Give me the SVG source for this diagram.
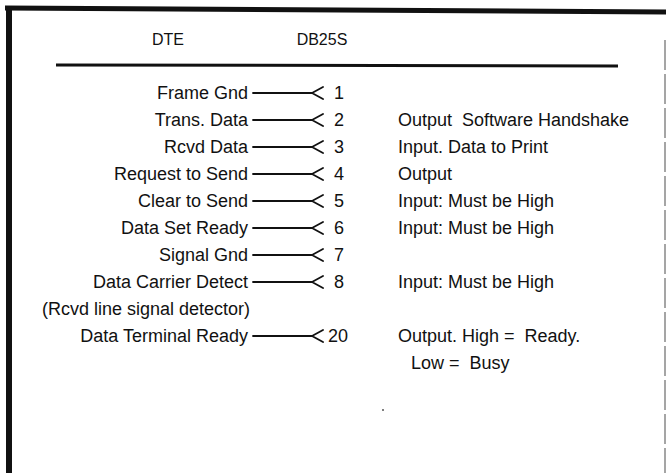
<svg xmlns="http://www.w3.org/2000/svg" width="668" height="473" viewBox="0 0 668 473">
<style>
text{font-family:"Liberation Sans",Arial,sans-serif;font-size:18px;fill:#111;white-space:pre}
.h{font-size:16px}
.l{text-anchor:end}
.n{text-anchor:middle}
.w{stroke:#111;stroke-width:1.8;fill:none;stroke-linecap:round;stroke-linejoin:round}
</style>
<rect width="668" height="473" fill="#fff"/>
<g id="frame">
<line x1="5" y1="8" x2="666" y2="12" stroke="#111" stroke-width="5"/>
<line x1="9" y1="6" x2="9" y2="473" stroke="#111" stroke-width="6"/>
<line x1="665" y1="40" x2="665" y2="473" stroke="#888" stroke-width="1.5" stroke-dasharray="30 4"/>
</g>
<g id="header">
<text class="n h" x="168" y="45">DTE</text>
<text class="n h" x="322" y="45">DB25S</text>
<line x1="56" y1="65" x2="618" y2="66" stroke="#111" stroke-width="3"/>
</g>
<g id="pin1"><text class="l" x="248" y="99">Frame Gnd</text><text class="n" x="339" y="99">1</text></g>
<g id="pin2"><text class="l" x="248" y="126">Trans. Data</text><text class="n" x="339" y="126">2</text><text x="398" y="126">Output  Software Handshake</text></g>
<g id="pin3"><text class="l" x="248" y="153">Rcvd Data</text><text class="n" x="339" y="153">3</text><text x="398" y="153">Input. Data to Print</text></g>
<g id="pin4"><text class="l" x="248" y="180">Request to Send</text><text class="n" x="339" y="180">4</text><text x="398" y="180">Output</text></g>
<g id="pin5"><text class="l" x="248" y="207">Clear to Send</text><text class="n" x="339" y="207">5</text><text x="398" y="207">Input: Must be High</text></g>
<g id="pin6"><text class="l" x="248" y="234">Data Set Ready</text><text class="n" x="339" y="234">6</text><text x="398" y="234">Input: Must be High</text></g>
<g id="pin7"><text class="l" x="248" y="261">Signal Gnd</text><text class="n" x="339" y="261">7</text></g>
<g id="pin8"><text class="l" x="248" y="288">Data Carrier Detect</text><text class="n" x="339" y="288">8</text><text x="398" y="288">Input: Must be High</text>
<text class="l" x="250" y="315">(Rcvd line signal detector)</text></g>
<g id="pin20"><text class="l" x="248" y="342">Data Terminal Ready</text><text class="n" x="338" y="342">20</text><text x="398" y="342">Output. High =  Ready.</text><text x="411" y="369">Low =  Busy</text></g>
<g id="connectors" class="w">
<path d="M253 93H312M323 87L312 93L323 99"/>
<path d="M253 120H312M323 114L312 120L323 126"/>
<path d="M253 147H312M323 141L312 147L323 153"/>
<path d="M253 174H312M323 168L312 174L323 180"/>
<path d="M253 201H312M323 195L312 201L323 207"/>
<path d="M253 228H312M323 222L312 228L323 234"/>
<path d="M253 255H312M323 249L312 255L323 261"/>
<path d="M253 282H312M323 276L312 282L323 288"/>
<path d="M253 336H312M323 330L312 336L323 342"/>
</g>
<circle cx="383" cy="410" r="1" fill="#555"/>
</svg>
